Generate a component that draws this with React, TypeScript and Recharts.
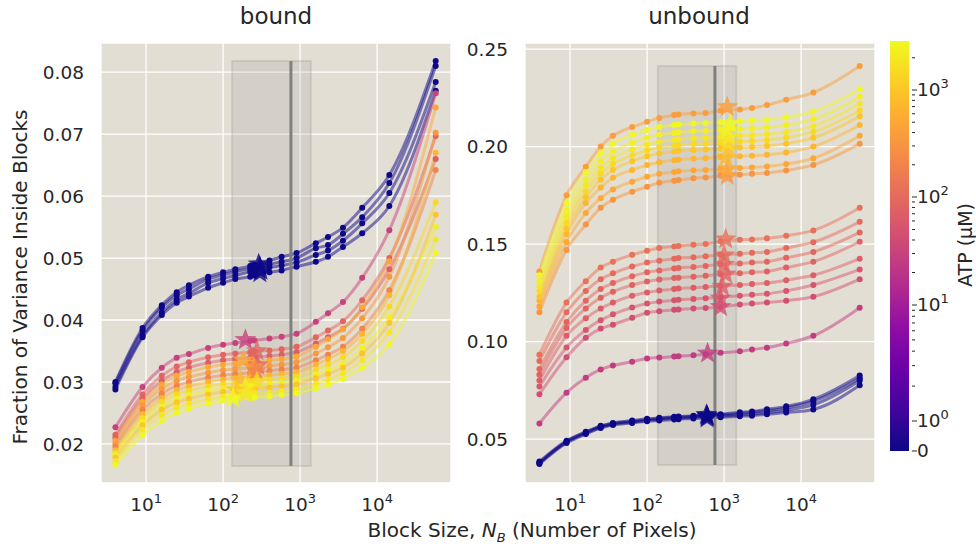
import React from 'react'
import { ComposedChart, Line, Scatter, XAxis, YAxis, CartesianGrid, ReferenceArea, ReferenceLine } from 'recharts'

// block sizes N_B shared by every curve
const blockSizes = [4, 9, 16, 25, 36, 64, 100, 144, 225, 256, 400, 576, 900, 1600, 2304, 3600, 6400, 14400, 57600]

// bound panel: ATP (uM) for each curve, then the curve values
const boundAtp = [0, 0, 0, 0, 30, 90, 70, 500, 350, 200, 700, 1500, 2400, 1000, 2000, 2800]
const boundCurves = [
  [0.0300, 0.0387, 0.0424, 0.0445, 0.0456, 0.0470, 0.0477, 0.0482, 0.0487, 0.0489, 0.0496, 0.0502, 0.0508, 0.0524, 0.0534, 0.0549, 0.0581, 0.0634, 0.0818],
  [0.0298, 0.0383, 0.0420, 0.0440, 0.0450, 0.0466, 0.0473, 0.0478, 0.0483, 0.0485, 0.0490, 0.0494, 0.0500, 0.0516, 0.0521, 0.0539, 0.0566, 0.0621, 0.0810],
  [0.0292, 0.0375, 0.0412, 0.0433, 0.0443, 0.0460, 0.0467, 0.0472, 0.0478, 0.0480, 0.0485, 0.0488, 0.0493, 0.0505, 0.0512, 0.0528, 0.0556, 0.0605, 0.0784],
  [0.0288, 0.0372, 0.0408, 0.0428, 0.0438, 0.0452, 0.0460, 0.0466, 0.0470, 0.0472, 0.0477, 0.0480, 0.0486, 0.0494, 0.0502, 0.0518, 0.0540, 0.0584, 0.0770],
  [0.0227, 0.0292, 0.0323, 0.0339, 0.0345, 0.0355, 0.0360, 0.0363, 0.0366, 0.0367, 0.0370, 0.0373, 0.0378, 0.0397, 0.0411, 0.0429, 0.0468, 0.0545, 0.0766],
  [0.0215, 0.0280, 0.0310, 0.0325, 0.0332, 0.0340, 0.0344, 0.0346, 0.0348, 0.0349, 0.0351, 0.0353, 0.0357, 0.0372, 0.0383, 0.0398, 0.0432, 0.0500, 0.0697],
  [0.0210, 0.0273, 0.0302, 0.0316, 0.0323, 0.0331, 0.0335, 0.0337, 0.0339, 0.0340, 0.0342, 0.0344, 0.0348, 0.0362, 0.0372, 0.0386, 0.0418, 0.0482, 0.0660],
  [0.0205, 0.0268, 0.0296, 0.0310, 0.0316, 0.0324, 0.0328, 0.0330, 0.0332, 0.0333, 0.0335, 0.0337, 0.0341, 0.0357, 0.0369, 0.0385, 0.0420, 0.0495, 0.0743],
  [0.0200, 0.0262, 0.0289, 0.0302, 0.0308, 0.0315, 0.0319, 0.0321, 0.0323, 0.0324, 0.0326, 0.0328, 0.0332, 0.0346, 0.0356, 0.0371, 0.0403, 0.0470, 0.0702],
  [0.0195, 0.0255, 0.0281, 0.0294, 0.0300, 0.0307, 0.0311, 0.0313, 0.0315, 0.0316, 0.0318, 0.0320, 0.0323, 0.0335, 0.0344, 0.0357, 0.0386, 0.0448, 0.0642],
  [0.0190, 0.0248, 0.0274, 0.0287, 0.0293, 0.0300, 0.0304, 0.0306, 0.0308, 0.0309, 0.0311, 0.0313, 0.0316, 0.0328, 0.0337, 0.0350, 0.0378, 0.0440, 0.0670],
  [0.0186, 0.0242, 0.0268, 0.0280, 0.0286, 0.0293, 0.0297, 0.0299, 0.0301, 0.0302, 0.0304, 0.0306, 0.0309, 0.0320, 0.0328, 0.0340, 0.0366, 0.0422, 0.0590],
  [0.0182, 0.0236, 0.0261, 0.0273, 0.0279, 0.0286, 0.0290, 0.0292, 0.0294, 0.0295, 0.0297, 0.0299, 0.0302, 0.0312, 0.0319, 0.0330, 0.0354, 0.0405, 0.0550],
  [0.0178, 0.0230, 0.0255, 0.0267, 0.0273, 0.0280, 0.0284, 0.0286, 0.0288, 0.0289, 0.0291, 0.0293, 0.0296, 0.0306, 0.0313, 0.0323, 0.0346, 0.0395, 0.0570],
  [0.0172, 0.0223, 0.0247, 0.0259, 0.0265, 0.0272, 0.0276, 0.0278, 0.0280, 0.0281, 0.0283, 0.0285, 0.0288, 0.0297, 0.0304, 0.0314, 0.0335, 0.0380, 0.0530],
  [0.0166, 0.0214, 0.0237, 0.0250, 0.0257, 0.0265, 0.0270, 0.0272, 0.0274, 0.0275, 0.0277, 0.0279, 0.0282, 0.0290, 0.0296, 0.0305, 0.0323, 0.0360, 0.0508],
]
const boundStarX = [290, 300, 310, 300, 195, 275, 280, 183, 250, 270, 166, 275, 195, 150, 200, 135]
const boundStarY = [0.0490, 0.0486, 0.0480, 0.0476, 0.0368, 0.0350, 0.0327, 0.0335, 0.0324, 0.0318, 0.0303, 0.0300, 0.0291, 0.0287, 0.0282, 0.0274]

// unbound panel
const unboundAtp = [0, 0, 0, 0, 25, 120, 100, 90, 80, 70, 55, 45, 400, 320, 500, 700, 1000, 1500, 2000, 2400, 2800]
const unboundCurves = [
  [0.0385, 0.0492, 0.0538, 0.0568, 0.0583, 0.0595, 0.0604, 0.0609, 0.0615, 0.0616, 0.0620, 0.0623, 0.0628, 0.0638, 0.0642, 0.0653, 0.0668, 0.0704, 0.0826],
  [0.0380, 0.0488, 0.0534, 0.0565, 0.0580, 0.0591, 0.0600, 0.0605, 0.0612, 0.0613, 0.0617, 0.0620, 0.0624, 0.0632, 0.0637, 0.0646, 0.0660, 0.0694, 0.0812],
  [0.0376, 0.0484, 0.0530, 0.0561, 0.0576, 0.0587, 0.0596, 0.0601, 0.0607, 0.0608, 0.0612, 0.0615, 0.0618, 0.0624, 0.0628, 0.0636, 0.0648, 0.0676, 0.0800],
  [0.0372, 0.0480, 0.0526, 0.0557, 0.0572, 0.0583, 0.0591, 0.0596, 0.0601, 0.0602, 0.0606, 0.0608, 0.0612, 0.0617, 0.0620, 0.0628, 0.0636, 0.0652, 0.0776],
  [0.0580, 0.0738, 0.0815, 0.0857, 0.0877, 0.0897, 0.0913, 0.0918, 0.0923, 0.0925, 0.0930, 0.0935, 0.0943, 0.0950, 0.0959, 0.0969, 0.0990, 0.1030, 0.1174],
  [0.0933, 0.1200, 0.1310, 0.1380, 0.1410, 0.1445, 0.1466, 0.1480, 0.1488, 0.1490, 0.1497, 0.1500, 0.1515, 0.1522, 0.1524, 0.1530, 0.1543, 0.1570, 0.1686],
  [0.0900, 0.1150, 0.1260, 0.1320, 0.1350, 0.1385, 0.1405, 0.1415, 0.1425, 0.1428, 0.1433, 0.1437, 0.1445, 0.1450, 0.1455, 0.1460, 0.1480, 0.1510, 0.1614],
  [0.0860, 0.1100, 0.1210, 0.1270, 0.1300, 0.1335, 0.1355, 0.1365, 0.1375, 0.1378, 0.1383, 0.1388, 0.1395, 0.1400, 0.1405, 0.1410, 0.1430, 0.1460, 0.1560],
  [0.0830, 0.1070, 0.1170, 0.1225, 0.1255, 0.1290, 0.1308, 0.1318, 0.1326, 0.1328, 0.1333, 0.1337, 0.1345, 0.1350, 0.1355, 0.1360, 0.1380, 0.1410, 0.1512],
  [0.0800, 0.1030, 0.1120, 0.1170, 0.1200, 0.1235, 0.1252, 0.1262, 0.1270, 0.1272, 0.1276, 0.1280, 0.1285, 0.1290, 0.1295, 0.1300, 0.1315, 0.1340, 0.1425],
  [0.0770, 0.0970, 0.1060, 0.1110, 0.1140, 0.1175, 0.1195, 0.1205, 0.1212, 0.1214, 0.1218, 0.1222, 0.1228, 0.1235, 0.1240, 0.1245, 0.1260, 0.1290, 0.1370],
  [0.0730, 0.0920, 0.1020, 0.1067, 0.1087, 0.1122, 0.1148, 0.1156, 0.1163, 0.1165, 0.1170, 0.1172, 0.1178, 0.1190, 0.1195, 0.1200, 0.1210, 0.1230, 0.1320],
  [0.1360, 0.1750, 0.1897, 0.2000, 0.2055, 0.2100, 0.2127, 0.2147, 0.2162, 0.2165, 0.2170, 0.2172, 0.2185, 0.2190, 0.2198, 0.2213, 0.2240, 0.2277, 0.2413],
  [0.1150, 0.1470, 0.1600, 0.1686, 0.1727, 0.1768, 0.1794, 0.1815, 0.1825, 0.1828, 0.1837, 0.1842, 0.1850, 0.1855, 0.1860, 0.1865, 0.1877, 0.1906, 0.2014],
  [0.1180, 0.1510, 0.1660, 0.1735, 0.1780, 0.1820, 0.1845, 0.1860, 0.1870, 0.1873, 0.1878, 0.1880, 0.1885, 0.1890, 0.1893, 0.1898, 0.1910, 0.1940, 0.2055],
  [0.1210, 0.1550, 0.1710, 0.1790, 0.1840, 0.1880, 0.1905, 0.1920, 0.1930, 0.1933, 0.1938, 0.1940, 0.1945, 0.1950, 0.1953, 0.1958, 0.1970, 0.2000, 0.2110],
  [0.1230, 0.1580, 0.1740, 0.1830, 0.1880, 0.1925, 0.1950, 0.1965, 0.1975, 0.1978, 0.1983, 0.1985, 0.1990, 0.1995, 0.1998, 0.2003, 0.2015, 0.2045, 0.2155],
  [0.1260, 0.1610, 0.1770, 0.1860, 0.1910, 0.1955, 0.1980, 0.1995, 0.2005, 0.2008, 0.2013, 0.2015, 0.2020, 0.2025, 0.2028, 0.2033, 0.2045, 0.2075, 0.2185],
  [0.1280, 0.1640, 0.1800, 0.1890, 0.1940, 0.1985, 0.2010, 0.2025, 0.2035, 0.2038, 0.2043, 0.2045, 0.2050, 0.2055, 0.2058, 0.2063, 0.2075, 0.2105, 0.2220],
  [0.1310, 0.1670, 0.1830, 0.1925, 0.1975, 0.2020, 0.2045, 0.2060, 0.2070, 0.2073, 0.2078, 0.2080, 0.2085, 0.2090, 0.2093, 0.2098, 0.2110, 0.2140, 0.2255],
  [0.1340, 0.1710, 0.1870, 0.1965, 0.2015, 0.2060, 0.2085, 0.2100, 0.2110, 0.2113, 0.2118, 0.2120, 0.2125, 0.2130, 0.2133, 0.2138, 0.2150, 0.2180, 0.2294],
]
const unboundStarX = [590, 600, 610, 600, 610, 1050, 1000, 1000, 1050, 950, 900, 900, 1100, 1100, 1100, 1050, 1150, 1100, 1150, 1100, 1200]
const unboundStarY = [0.0625, 0.0620, 0.0615, 0.0607, 0.0940, 0.1525, 0.1443, 0.1395, 0.1345, 0.1282, 0.1222, 0.1178, 0.2203, 0.1850, 0.1885, 0.1945, 0.1990, 0.2020, 0.2050, 0.2085, 0.2115]

const xTicks = [10, 100, 1000, 10000]
const boundTicks = [0.02, 0.03, 0.04, 0.05, 0.06, 0.07, 0.08]
const unboundTicks = [0.05, 0.1, 0.15, 0.2, 0.25]
const cbarMajor = [0, 1, 10, 100, 1000]
const cbarMajorLabels = ['0', '0', '1', '2', '3']

const FONT = '"DejaVu Sans", sans-serif'
const TEXT = '#262626'
const BG = '#e3ded4'
const TICK_FS = 18.5

const plasmaStops = ['#0d0887', '#41049d', '#6a00a8', '#8f0da4', '#b12a90', '#cc4778', '#e16462', '#f2844b', '#fca636', '#fcce25', '#f0f921']

function plasma(t: number) {
  const s = Math.max(0, Math.min(1, t)) * 10
  const i = Math.min(9, Math.floor(s))
  const f = s - i
  const a = plasmaStops[i], b = plasmaStops[i + 1]
  const ch = (h: string, k: number) => parseInt(h.slice(1 + 2 * k, 3 + 2 * k), 16)
  const c = [0, 1, 2].map((k) => Math.round(ch(a, k) + (ch(b, k) - ch(a, k)) * f))
  return `rgb(${c[0]},${c[1]},${c[2]})`
}

// symlog position along the 410px colorbar
const CBAR_H = 410
function atpPos(a: number) {
  if (a <= 0) return 0
  if (a < 1) return a * 30
  const l = Math.log10(a)
  if (l < 1) return 30 + l * 116
  if (l < 2) return 146 + (l - 1) * 108
  return 254 + (l - 2) * 107
}
const atpColor = (a: number) => plasma(atpPos(a) / CBAR_H)

function starPath(cx: number, cy: number, ro: number, ri: number) {
  let d = ''
  for (let k = 0; k < 10; k++) {
    const r = k % 2 === 0 ? ro : ri
    const ang = -Math.PI / 2 + (k * Math.PI) / 5
    d += (k === 0 ? 'M' : 'L') + (cx + r * Math.cos(ang)).toFixed(2) + ',' + (cy + r * Math.sin(ang)).toFixed(2)
  }
  return d + 'Z'
}

const StarShape = (props: any) => {
  const { cx, cy, payload } = props
  if (cx == null || cy == null) return null
  return <path d={starPath(cx, cy, 11.5, 4.8)} fill={atpColor(payload.atp)} fillOpacity={0.8} />
}

const PowTick = (props: any) => {
  const { x, y, payload } = props
  const e = Math.round(Math.log10(payload.value))
  return (
    <text x={x} y={y + 20} textAnchor="middle" fill={TEXT} fontSize={TICK_FS} fontFamily={FONT}>
      10<tspan dy={-8} fontSize={13}>{e}</tspan>
    </text>
  )
}

function Panel({ atp, curves, starX, starY, yDomain, yTicks, line }: any) {
  const data = blockSizes.map((x, i) => {
    const row: any = { x }
    curves.forEach((c: number[], j: number) => (row['c' + j] = c[i]))
    return row
  })
  const stars = starX.map((x: number, i: number) => ({ x, y: starY[i], atp: atp[i] }))
  return (
    <ComposedChart width={420} height={548} data={data} margin={{ top: 43, right: 5, bottom: 35, left: 5 }}>
      <CartesianGrid fill={BG} stroke="#ffffff" strokeWidth={1.3} vertical horizontal />
      <XAxis dataKey="x" type="number" scale="log" domain={[2.6, 91000]} allowDataOverflow ticks={xTicks}
        tick={<PowTick />} tickLine={false} axisLine={false} height={30} interval={0} />
      <YAxis type="number" domain={yDomain} allowDataOverflow ticks={yTicks} width={60} tickLine={false} axisLine={false}
        tickSize={0} tickMargin={17} interval={0} tickFormatter={(v: number) => v.toFixed(2)}
        tick={{ fill: TEXT, fontSize: TICK_FS, fontFamily: FONT }} />
      {curves.map((_: number[], j: number) => {
        const col = atpColor(atp[j])
        return (
          <Line key={j} dataKey={'c' + j} type="monotone" stroke={col} strokeOpacity={0.5} strokeWidth={3}
            dot={{ r: 3, fill: col, stroke: 'none', fillOpacity: 1 }} activeDot={false} isAnimationActive={false} />
        )
      })}
      <Scatter data={stars} dataKey="y" shape={<StarShape />} isAnimationActive={false} />
      <ReferenceArea x1={line.x1} x2={line.x2} y1={line.y1} y2={line.y2} fill="#8a8a8a" fillOpacity={0.16}
        stroke="#8a8a8a" strokeOpacity={0.22} strokeWidth={2} />
      <ReferenceLine segment={[{ x: line.x, y: line.y1 }, { x: line.x, y: line.y2 }]} stroke="#808080" strokeWidth={3} />
    </ComposedChart>
  )
}

function Colorbar() {
  const top = 41, left = 890, w = 19
  const stops = plasmaStops.map((c, i) => <stop key={i} offset={`${i * 10}%`} stopColor={c} />)
  const minor: number[] = []
  for (let n = 0; n <= 3; n++) for (let k = 2; k <= 9; k++) {
    const v = k * Math.pow(10, n)
    if (atpPos(v) <= CBAR_H) minor.push(v)
  }
  const yOf = (v: number) => top + CBAR_H - atpPos(v)
  return (
    <svg width={976} height={548} style={{ position: 'absolute', left: 0, top: 0, pointerEvents: 'none' }}>
      <defs>
        <linearGradient id="plasma" x1="0" y1="1" x2="0" y2="0">{stops}</linearGradient>
      </defs>
      <rect x={left} y={top} width={w} height={CBAR_H} fill="url(#plasma)" />
      {minor.map((v) => (
        <line key={v} x1={left + w + 3} x2={left + w + 6} y1={yOf(v)} y2={yOf(v)} stroke={TEXT} strokeWidth={1} />
      ))}
      {cbarMajor.map((v, i) => (
        <g key={v}>
          <line x1={left + w + 3} x2={left + w + 8} y1={yOf(v)} y2={yOf(v)} stroke={TEXT} strokeWidth={1} />
          {v === 0 ? (
            <text x={left + w + 8} y={yOf(v) + 6} fill={TEXT} fontSize={TICK_FS} fontFamily={FONT}>0</text>
          ) : (
            <text x={left + w + 8} y={yOf(v) + 6} fill={TEXT} fontSize={TICK_FS} fontFamily={FONT}>
              10<tspan dy={-8} fontSize={13}>{cbarMajorLabels[i]}</tspan>
            </text>
          )}
        </g>
      ))}
      <text x={0} y={0} transform="translate(972,245) rotate(-90)" textAnchor="middle" fill={TEXT} fontSize={19} fontFamily={FONT}>
        ATP (μM)
      </text>
    </svg>
  )
}

export default function App() {
  return (
    <div style={{ position: 'absolute', left: 0, top: 0, width: 976, height: 548, background: '#fff', fontFamily: FONT, color: TEXT }}>
      <div style={{ position: 'absolute', left: 36, top: 0 }}>
        <Panel atp={boundAtp} curves={boundCurves} starX={boundStarX} starY={boundStarY}
          yDomain={[0.0137, 0.0847]} yTicks={boundTicks}
          line={{ x: 760, x1: 131, x2: 1380, y1: 0.01645, y2: 0.0818 }} />
      </div>
      <div style={{ position: 'absolute', left: 460, top: 0 }}>
        <Panel atp={unboundAtp} curves={unboundCurves} starX={unboundStarX} starY={unboundStarY}
          yDomain={[0.0275, 0.2531]} yTicks={unboundTicks}
          line={{ x: 760, x1: 138, x2: 1440, y1: 0.0367, y2: 0.2413 }} />
      </div>
      <div style={{ position: 'absolute', left: 276, top: 3, transform: 'translateX(-50%)', fontSize: 23 }}>bound</div>
      <div style={{ position: 'absolute', left: 699, top: 3, transform: 'translateX(-50%)', fontSize: 23 }}>unbound</div>
      <div style={{ position: 'absolute', left: 532, top: 518, transform: 'translateX(-50%)', fontSize: 20, whiteSpace: 'nowrap' }}>
        Block Size, <i>N</i><sub style={{ fontSize: 13 }}><i>B</i></sub> (Number of Pixels)
      </div>
      <div style={{ position: 'absolute', left: 20, top: 277, transform: 'translate(-50%,-50%) rotate(-90deg)', fontSize: 20, whiteSpace: 'nowrap' }}>
        Fraction of Variance Inside Blocks
      </div>
      <Colorbar />
    </div>
  )
}
